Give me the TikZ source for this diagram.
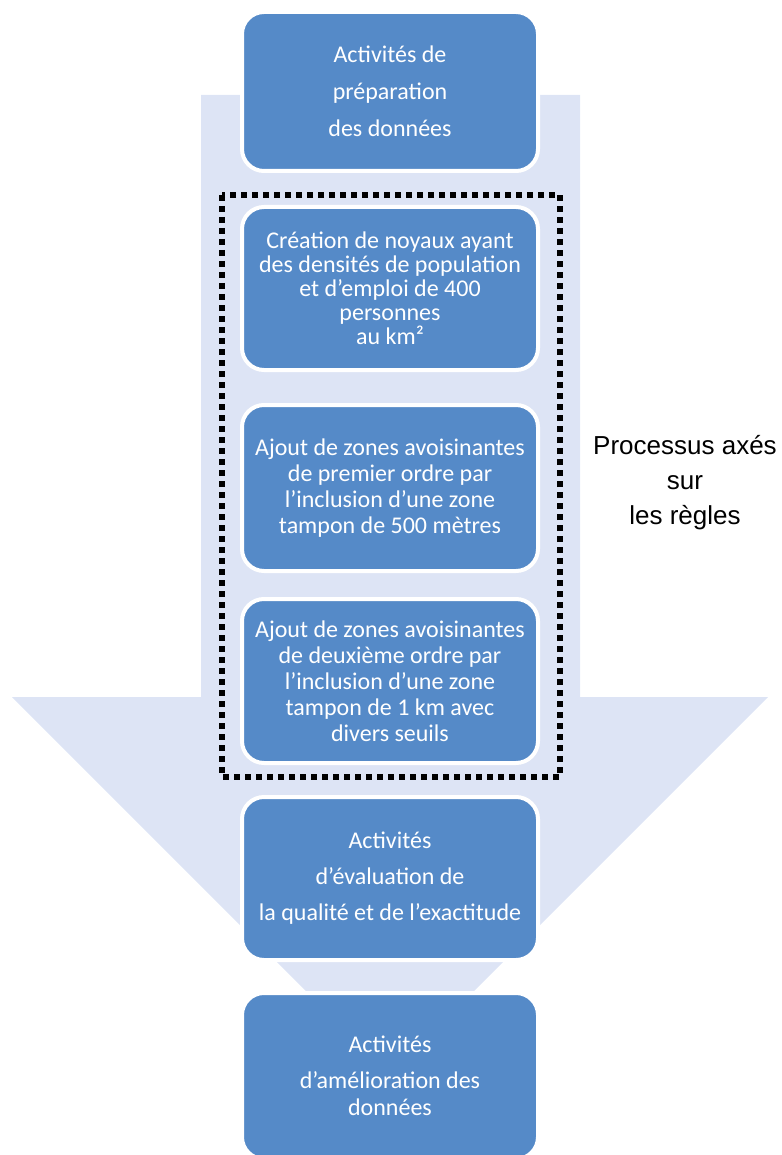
\documentclass[tikz,border=0pt]{standalone}
\usepackage{fontspec}
\newfontfamily\carlito{Carlito}
\newfontfamily\arial{Liberation Sans}
\definecolor{boxblue}{RGB}{85,138,200}
\definecolor{pale}{RGB}{221,228,245}
\begin{document}
\begin{tikzpicture}[x=1pt, y=-1pt,
  etape/.style={draw=white, line width=4pt, fill=boxblue, rounded corners=22pt,
    minimum width=296pt, inner sep=0pt, text=white, align=center,
    font=\carlito\fontsize{24}{26}\selectfont}]
\useasboundingbox (0,0) rectangle (781,1155);

\fill [pale](201,95)--(580,95)--(580,697)--(768,697)--(390,1075)--(12,697)--(201,697)--cycle;

\node [etape, minimum height=159pt, font=\carlito\fontsize{24}{37}\selectfont] (prep) at (390,91.5){Activités de\\préparation\\des données};
\node [etape, minimum height=163pt, font=\carlito\fontsize{24}{24}\selectfont] (noyaux) at (390,288.5){Création de noyaux ayant\\des densités de population\\et d’emploi de 400\\personnes\\au km²};
\node [etape, minimum height=166pt] (ordre1) at (390,488){Ajout de zones avoisinantes\\de premier ordre par\\l’inclusion d’une zone\\tampon de 500 mètres};
\node [etape, minimum height=164pt] (ordre2) at (390,681){Ajout de zones avoisinantes\\de deuxième ordre par\\l’inclusion d’une zone\\tampon de 1 km avec\\divers seuils};
\node [etape, minimum height=163pt, font=\carlito\fontsize{24}{36}\selectfont] (eval) at (390,878.5){Activités\\d’évaluation de\\la qualité et de l’exactitude};
\node [etape, minimum height=166pt, font=\carlito\fontsize{24}{27}\selectfont] (amelio) at (390,1076){Activités\\[9pt]d’amélioration des\\données};

\draw [line width=6pt, dash pattern=on 6pt off 5pt](222,195) rectangle (560,777);

\node [font=\arial\fontsize{26}{35}\selectfont, align=center] (axes) at (685,483){Processus axés\\sur\\les règles};
\end{tikzpicture}
\end{document}
